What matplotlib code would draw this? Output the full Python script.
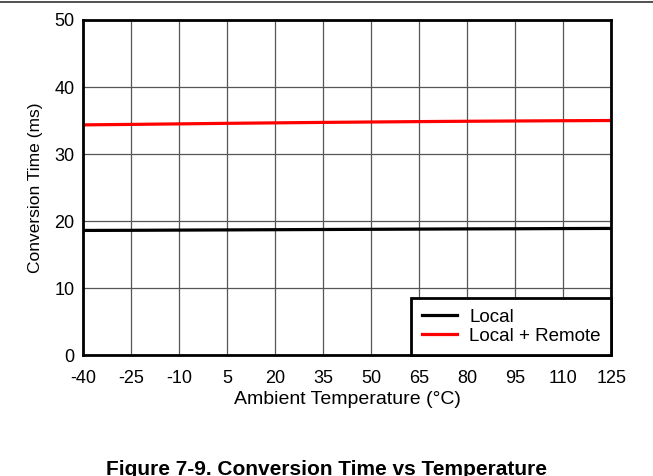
import numpy as np
import matplotlib
matplotlib.use('Agg')
import matplotlib.pyplot as plt

plt.rcParams['font.family'] = ['Liberation Sans', 'DejaVu Sans']
plt.rcParams['axes.unicode_minus'] = False

# data
temps = [-40, -25, -10, 5, 20, 35, 50, 65, 80, 95, 110, 125]
local = [18.6, 18.62, 18.65, 18.68, 18.71, 18.74, 18.77, 18.8, 18.83, 18.85, 18.88, 18.9]
local_remote = [34.35, 34.42, 34.5, 34.58, 34.65, 34.72, 34.78, 34.84, 34.89, 34.93, 34.97, 35.0]
xticks = temps
yticks = [0, 10, 20, 30, 40, 50]

fig = plt.figure(figsize=(6.53, 4.76), dpi=100)
ax = fig.add_axes([0.127, 0.254, 0.809, 0.704])

ax.plot(temps, local, color='black', lw=2.3, label='Local')
ax.plot(temps, local_remote, color='#ff0000', lw=2.3, label='Local + Remote')

ax.set_xlim(-40, 125)
ax.set_ylim(0, 50)
ax.set_xticks(xticks)
ax.set_yticks(yticks)
ax.tick_params(length=0, labelsize=13)
ax.tick_params(axis='x', pad=10.5)
ax.tick_params(axis='y', pad=6)
ax.grid(True, color='#555555', lw=0.9)
for s in ax.spines.values():
    s.set_linewidth(2)
    s.set_color('black')
    s.set_zorder(5)

ax.set_xlabel('Ambient Temperature (°C)', fontsize=14, labelpad=3)
ax.set_ylabel('Conversion Time (ms)', fontsize=12.5, labelpad=8)

leg = ax.legend(loc='lower right', fontsize=13.5, frameon=True, fancybox=False,
                borderaxespad=0, handlelength=1.9, handletextpad=0.65,
                labelspacing=0.1, borderpad=0.55)
leg.get_frame().set_edgecolor('black')
leg.get_frame().set_linewidth(2)
leg.get_frame().set_alpha(1)

# page rule at the top and figure caption (cut by the page edge, as in the source)
fig.add_artist(plt.Line2D([0, 1], [0.995, 0.995], color='#333333', lw=1.2))
fig.text(0.5, 0.002, 'Figure 7-9. Conversion Time vs Temperature',
         ha='center', va='baseline', fontsize=15, fontweight='bold')

fig.savefig('out.png', dpi=100)
